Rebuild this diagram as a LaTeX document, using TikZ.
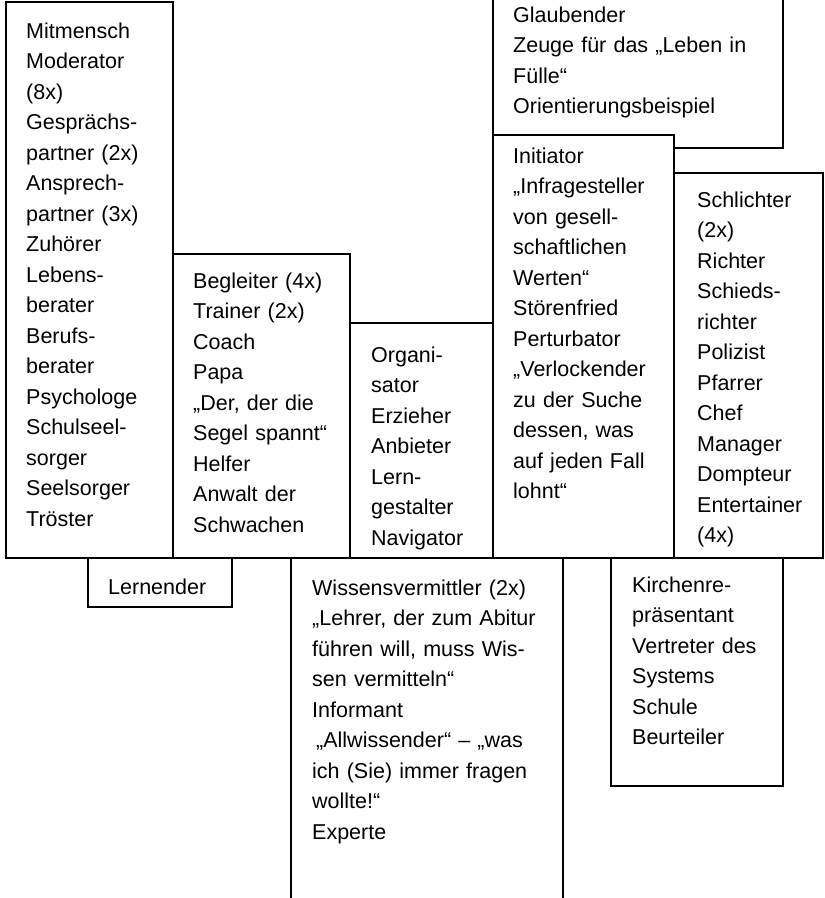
\documentclass[tikz,border=0pt]{standalone}
\usepackage{fontspec}
\setmainfont{Liberation Sans}
\begin{document}
\begin{tikzpicture}[x=1pt, y=-1pt,
% common options for the frames:
frame/.style = {draw, line width=1.8pt, fill=white},
% common options for the word lists:
list/.style = {rectangle, align=left, anchor=base west, inner sep=0,
            text width=250pt, font=\fontsize{21.5}{30.5}\selectfont}]
\useasboundingbox (0,0) rectangle (825,898);
% upper row
\draw[frame] (6,2) rectangle (173,558);
\draw[frame] (173,254) rectangle (350,558);
\draw[frame] (350,323) rectangle (493,558);
\draw[frame] (493,-2) rectangle (783,148);
\draw[frame] (493,135) rectangle (674,558);
\draw[frame] (674,173) rectangle (823,558);
% lower row
\draw[frame] (88,558) rectangle (232,607);
\draw[frame, fill=none] (291,898) -- (291,558) (563,558) -- (563,898);
\draw[frame] (611,558) rectangle (783,786);
\node[list] (T1) at (26,38) {Mitmensch\\Moderator\\(8x)\\Gesprächs-\\partner (2x)\\Ansprech-\\partner (3x)\\Zuhörer\\Lebens-\\berater\\Berufs-\\berater\\Psychologe\\Schulseel-\\sorger\\Seelsorger\\Tröster};
\node[list] (T2) at (193,288) {Begleiter (4x)\\Trainer (2x)\\Coach\\Papa\\„Der, der die\\Segel spannt“\\Helfer\\Anwalt der\\Schwachen};
\node[list] (T3) at (371,362) {Organi-\\sator\\Erzieher\\Anbieter\\Lern-\\gestalter\\Navigator};
\node[list] (T4) at (513,22) {Glaubender\\Zeuge für das „Leben in\\Fülle“\\Orientierungsbeispiel};
\node[list] (T5) at (513,163) {Initiator\\„Infragesteller\\von gesell-\\schaftlichen\\Werten“\\Störenfried\\Perturbator\\„Verlockender\\zu der Suche\\dessen, was\\auf jeden Fall\\lohnt“};
\node[list] (T6) at (697,207) {Schlichter\\(2x)\\Richter\\Schieds-\\richter\\Polizist\\Pfarrer\\Chef\\Manager\\Dompteur\\Entertainer\\(4x)};
\node[list] (B1) at (108,594) {Lernender};
\node[list] (B2) at (312,595) {Wissensvermittler (2x)\\„Lehrer, der zum Abitur\\führen will, muss Wis-\\sen vermitteln“\\Informant\\\hspace*{4pt}„Allwissender“ – „was\\ich (Sie) immer fragen\\wollte!“\\Experte};
\node[list] (B3) at (632,592) {Kirchenre-\\präsentant\\Vertreter des\\Systems\\Schule\\Beurteiler};
\end{tikzpicture}
\end{document}
